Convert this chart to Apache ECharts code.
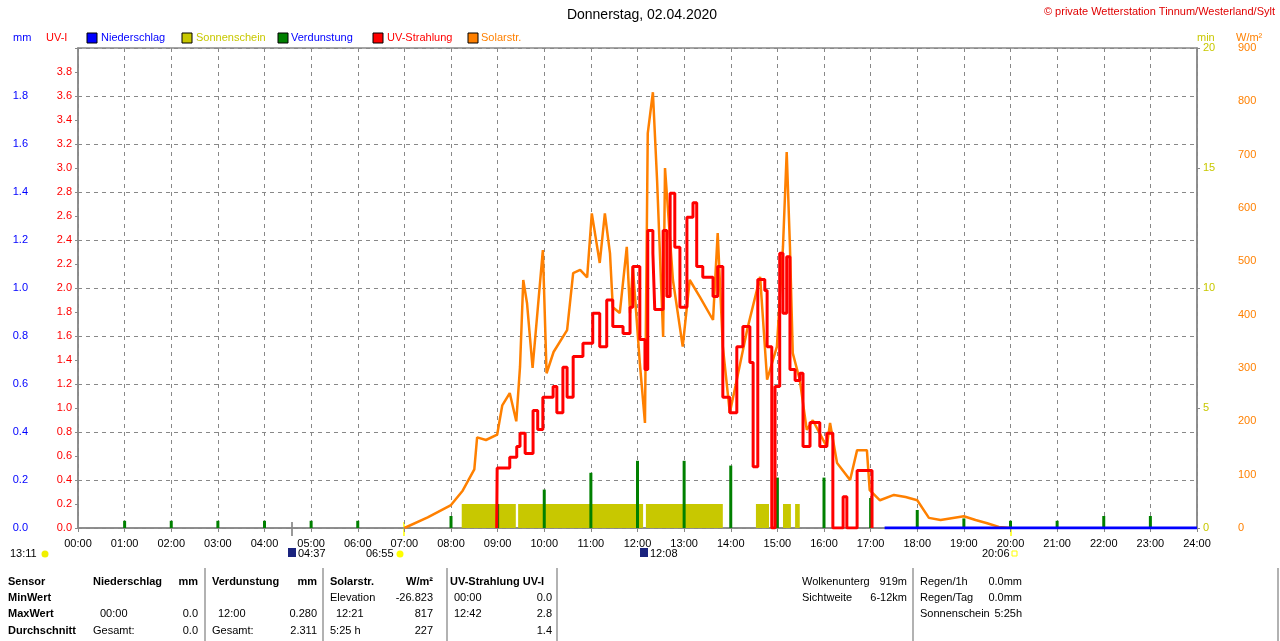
<!DOCTYPE html>
<html><head><meta charset="utf-8">
<script src="https://cdn.jsdelivr.net/npm/echarts@6/dist/echarts.min.js"></script>
<style>html,body{margin:0;padding:0;background:#fff}#c{width:1280px;height:641px}</style>
</head><body><div id="c"></div>
<script>
// Tagesverlauf Sonne/UV, Werte (Stunden als Dezimalzahl).
const solarT = [7.0,7.5,8.0,8.25,8.5,8.56,8.75,8.99,9.1,9.26,9.4,9.48,9.55,9.63,9.75,9.97,10.05,10.2,10.49,10.62,10.77,10.92,11.02,11.19,11.30,11.41,11.47,11.62,11.77,11.84,11.90,12.05,12.16,12.22,12.33,12.42,12.55,12.59,12.76,12.97,13.12,13.34,13.62,13.72,13.83,13.98,14.13,14.35,14.63,14.78,14.99,15.12,15.20,15.27,15.33,15.48,15.63,15.76,16.06,16.13,16.28,16.56,16.71,16.92,16.98,17.20,17.5,17.75,18.0,18.25,18.5,19.0,19.25,19.5,19.75,20.0];
const solarV = [0,20,43,70,110,170,165,175,230,253,200,302,465,422,300,521,290,330,371,478,484,470,590,497,590,515,414,403,527,403,490,309,197,740,817,652,358,675,465,340,465,433,390,553,340,216,278,371,471,278,340,527,705,527,328,278,184,202,152,197,122,90,146,146,71,52,62,58,52,19,15,22,15,9,2,0];

const uvT = [8.98,8.99,9.26,9.41,9.48,9.59,9.76,9.86,9.97,10.19,10.27,10.40,10.49,10.62,10.83,11.04,11.19,11.34,11.47,11.69,11.84,11.90,12.05,12.16,12.22,12.33,12.37,12.55,12.63,12.70,12.80,12.91,13.06,13.19,13.27,13.40,13.62,13.72,13.83,13.98,14.13,14.26,14.41,14.48,14.58,14.73,14.78,14.88,14.95,15.05,15.12,15.20,15.27,15.38,15.48,15.55,15.70,15.91,16.06,16.19,16.41,16.49,16.71,16.98,17.03];
const uvV = [0,0.5,0.59,0.68,0.79,0.62,0.98,0.82,1.09,1.18,0.96,1.34,1.09,1.43,1.54,1.79,1.51,1.9,1.68,1.62,1.84,2.18,1.57,1.32,2.48,2.29,1.82,2.48,1.93,2.79,2.34,1.84,2.59,2.71,2.18,2.09,1.93,2.18,1.09,0.96,1.51,1.68,1.38,0.51,2.07,1.98,1.51,0,1.18,2.29,1.79,2.26,1.32,1.23,1.29,0.68,0.88,0.68,0.79,0,0.26,0,0.48,0.48,0];

// Sonnenschein-Blöcke [von, bis, min]
const sunBlocks = [[8.23,9.39,1],[9.44,12.12,1],[12.18,13.83,1],[14.54,14.82,1],[15.12,15.29,1],[15.38,15.48,1]];
// Verdunstung (mm) je Stunde
const evapT = [1,2,3,4,5,6,8,9,10,11,12,13,14,15,16,17,18,19,20,21,22,23];
const evapV = [0.03,0.03,0.03,0.03,0.03,0.03,0.05,0.10,0.16,0.23,0.28,0.28,0.26,0.21,0.21,0.125,0.075,0.04,0.03,0.03,0.05,0.05];
const rainT = [17.3,24];
const rainV = [0,0];

const hourLabels = [];
for (let h = 0; h <= 24; h++) hourLabels.push((h < 10 ? "0" : "") + h + ":00");

const FONT = "Liberation Sans";
const chart = echarts.init(document.getElementById("c"), null, { renderer: "canvas" });

function txt(x, y, s, o) {
  return Object.assign({ type: "text", x, y, style: Object.assign({ text: s, fill: "#000", font: "11px " + FONT }, o || {}) }, {});
}
function t(x, y, s, extra) {
  const st = Object.assign({ text: s, fill: "#000", font: "11px " + FONT }, extra || {});
  return { type: "text", x, y, style: st };
}
function box(x, y, color) {
  return { type: "rect", shape: { x, y, width: 10, height: 10 }, style: { fill: color, stroke: "#000", lineWidth: 1 } };
}
function vline(x, y1, y2, c) {
  return { type: "line", shape: { x1: x, y1, x2: x, y2 }, style: { stroke: c || "#999", lineWidth: 1.5 } };
}

const B = { font: "bold 11px " + FONT };
const R = { align: "right" };
const graphics = [
  t(642, 8, "Donnerstag, 02.04.2020", { font: "14px " + FONT, align: "center" }),
  t(1275, 6, "© private Wetterstation Tinnum/Westerland/Sylt", { fill: "#e00000", align: "right" }),
  t(13, 32, "mm", { fill: "#0000ff" }), t(46, 32, "UV-I", { fill: "#ff0000" }),
  t(1197, 32, "min", { fill: "#c8c800" }), t(1236, 32, "W/m²", { fill: "#ff8000" }),
  box(87, 33, "#0000ff"), t(101, 32, "Niederschlag", { fill: "#0000ff" }),
  box(182, 33, "#c8c800"), t(196, 32, "Sonnenschein", { fill: "#c8c800" }),
  box(278, 33, "#008000"), t(291, 32, "Verdunstung", { fill: "#0000ff" }),
  box(373, 33, "#ff0000"), t(387, 32, "UV-Strahlung", { fill: "#ff0000" }),
  box(468, 33, "#ff8000"), t(481, 32, "Solarstr.", { fill: "#ff8000" }),
  t(10, 548, "13:11"), { type: "circle", shape: { cx: 45, cy: 554, r: 3.5 }, style: { fill: "#f0f000" } },
  { type: "rect", shape: { x: 288, y: 548, width: 8, height: 9 }, style: { fill: "#1a237e" } }, t(298, 548, "04:37"),
  t(366, 548, "06:55"), { type: "circle", shape: { cx: 400, cy: 554, r: 3.5 }, style: { fill: "#ffff00" } },
  { type: "rect", shape: { x: 640, y: 548, width: 8, height: 9 }, style: { fill: "#1a237e" } }, t(650, 548, "12:08"),
  t(982, 548, "20:06"), { type: "rect", shape: { x: 1012, y: 551, width: 5, height: 5 }, style: { fill: "none", stroke: "#ffff00" } },
  vline(292, 522, 536, "#777"), vline(404, 522, 536, "#ffff00"), vline(1011, 522, 536, "#ffff00"),
  // Tabelle
  t(8, 576, "Sensor", B), t(8, 592, "MinWert", B), t(8, 608, "MaxWert", B), t(8, 625, "Durchschnitt", B),
  t(93, 576, "Niederschlag", B), t(198, 576, "mm", Object.assign({ align: "right" }, B)),
  t(100, 608, "00:00"), t(198, 608, "0.0", R), t(93, 625, "Gesamt:"), t(198, 625, "0.0", R),
  t(212, 576, "Verdunstung", B), t(317, 576, "mm", Object.assign({ align: "right" }, B)),
  t(218, 608, "12:00"), t(317, 608, "0.280", R), t(212, 625, "Gesamt:"), t(317, 625, "2.311", R),
  t(330, 576, "Solarstr.", B), t(433, 576, "W/m²", Object.assign({ align: "right" }, B)),
  t(330, 592, "Elevation"), t(433, 592, "-26.823", R), t(336, 608, "12:21"), t(433, 608, "817", R),
  t(330, 625, "5:25 h"), t(433, 625, "227", R),
  t(450, 576, "UV-Strahlung UV-I", B), t(454, 592, "00:00"), t(552, 592, "0.0", R),
  t(454, 608, "12:42"), t(552, 608, "2.8", R), t(552, 625, "1.4", R),
  vline(205, 568, 641), vline(323, 568, 641), vline(447, 568, 641), vline(557, 568, 641),
  t(802, 576, "Wolkenunterg"), t(907, 576, "919m", R), t(802, 592, "Sichtweite"), t(907, 592, "6-12km", R),
  vline(913, 568, 641),
  t(920, 576, "Regen/1h"), t(1022, 576, "0.0mm", R), t(920, 592, "Regen/Tag"), t(1022, 592, "0.0mm", R),
  t(920, 608, "Sonnenschein"), t(1022, 608, "5:25h", R),
  vline(1278, 568, 641)
];

const lbl = (c) => ({ color: c, fontFamily: FONT, fontSize: 11 });

chart.setOption({
  animation: false,
  textStyle: { fontFamily: FONT },
  grid: { left: 78, right: 83, top: 48, bottom: 113, show: true, borderColor: "#888", borderWidth: 1.5 },
  xAxis: {
    type: "value", min: 0, max: 24, interval: 1,
    axisLine: { lineStyle: { color: "#888", width: 1.5 } },
    axisTick: { length: 4, lineStyle: { color: "#888" } },
    axisLabel: Object.assign(lbl("#000"), { margin: 10, formatter: (v) => hourLabels[v] }),
    splitLine: { show: true, lineStyle: { color: "#888", type: [4, 4] } }
  },
  yAxis: [
    { type: "value", min: 0, max: 2, interval: 0.2, position: "left", offset: 42,
      axisLine: { show: false }, axisTick: { show: false },
      axisLabel: Object.assign(lbl("#0000ff"), { formatter: (v) => v >= 1.99 ? "" : v.toFixed(1) }),
      splitLine: { show: true, lineStyle: { color: "#888", type: [4, 4] } } },
    { type: "value", min: 0, max: 4, interval: 0.2, position: "left", offset: 0,
      axisLine: { show: true, lineStyle: { color: "#888", width: 1.5 } }, axisTick: { show: true, length: 3, lineStyle: { color: "#888" } },
      axisLabel: Object.assign(lbl("#ff0000"), { margin: 6, formatter: (v) => v >= 3.99 ? "" : v.toFixed(1) }),
      splitLine: { show: false } },
    { type: "value", min: 0, max: 20, interval: 5, position: "right", offset: 0,
      axisLine: { show: true, lineStyle: { color: "#888", width: 1.5 } }, axisTick: { show: true, length: 3, lineStyle: { color: "#888" } },
      axisLabel: Object.assign(lbl("#c8c800"), { margin: 6 }), splitLine: { show: false } },
    { type: "value", min: 0, max: 900, interval: 100, position: "right", offset: 35,
      axisLine: { show: false }, axisTick: { show: false },
      axisLabel: Object.assign(lbl("#ff8000"), { margin: 6 }), splitLine: { show: false } }
  ],
  graphic: graphics,
  series: [
    { name: "Sonnenschein", type: "custom", xAxisIndex: 0, yAxisIndex: 2, data: sunBlocks,
      renderItem: (params, api) => {
        const p0 = api.coord([api.value(0), api.value(2)]);
        const p1 = api.coord([api.value(1), 0]);
        return { type: "rect", shape: { x: p0[0], y: p0[1], width: p1[0] - p0[0], height: p1[1] - p0[1] }, style: { fill: "#c8c800" } };
      } },
    { name: "Verdunstung", type: "bar", yAxisIndex: 0, barWidth: 3, itemStyle: { color: "#008000" },
      data: evapT.map((h, i) => [h, evapV[i]]) },
    { name: "Solarstr.", type: "line", yAxisIndex: 3, showSymbol: false, lineStyle: { color: "#ff8000", width: 2.5 },
      data: solarT.map((h, i) => [h, solarV[i]]) },
    { name: "UV-Strahlung", type: "line", yAxisIndex: 1, step: "end", showSymbol: false, lineStyle: { color: "#ff0000", width: 3 },
      data: uvT.map((h, i) => [h, uvV[i]]) },
    { name: "Niederschlag", type: "line", yAxisIndex: 0, showSymbol: false, lineStyle: { color: "#0000ff", width: 3 },
      data: rainT.map((h, i) => [h, rainV[i]]) }
  ]
});
</script>
</body></html>
